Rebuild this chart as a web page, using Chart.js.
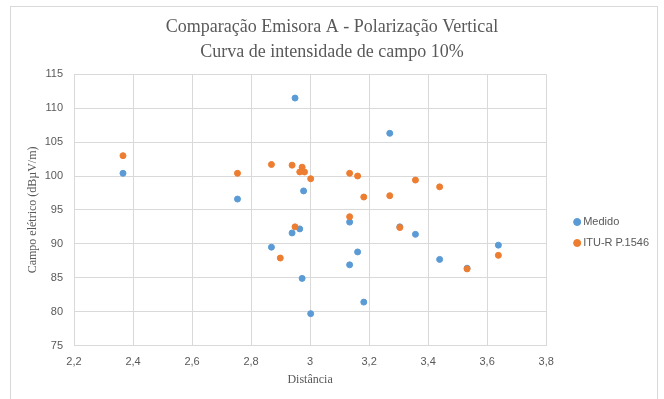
<!DOCTYPE html>
<html>
<head>
<meta charset="utf-8">
<script src="https://cdn.jsdelivr.net/npm/chart.js@4.4.1/dist/chart.umd.min.js"></script>
<style>
    html, body { margin: 0; padding: 0; background: #fff; }
    #wrap { position: relative; width: 664px; height: 399px; overflow: hidden; }
    #frame { position: absolute; left: 10px; top: 6px; width: 646px; height: 420px; border: 1px solid #d9d9d9; }
    #chart { position: absolute; left: 0; top: 0; }
</style>
</head>
<body>
<div id="wrap">
    <div id="frame"></div>
    <canvas id="chart" width="664" height="399"></canvas>
</div>
<script>
// Measured field strength
const medidoX = [2.366, 2.754, 2.869, 2.939, 2.949, 2.965, 2.973, 2.978, 3.002, 3.134, 3.134, 3.161, 3.182, 3.270, 3.304, 3.357, 3.439, 3.532, 3.638];
const medidoY = [100.4, 96.6, 89.5, 91.6, 111.5, 92.2, 84.9, 97.8, 79.7, 93.2, 86.9, 88.8, 81.4, 106.3, 92.5, 91.4, 87.7, 86.4, 89.8];

// ITU-R P.1546 prediction
const ituX = [2.366, 2.754, 2.869, 2.899, 2.939, 2.949, 2.965, 2.973, 2.981, 3.002, 3.134, 3.134, 3.161, 3.182, 3.270, 3.304, 3.357, 3.439, 3.532, 3.638];
const ituY = [103.0, 100.4, 101.7, 87.9, 101.6, 92.5, 100.6, 101.3, 100.6, 99.6, 100.4, 94.0, 100.0, 96.9, 97.1, 92.4, 99.4, 98.4, 86.3, 88.3];

const xTickValues = [2.2, 2.4, 2.6, 2.8, 3, 3.2, 3.4, 3.6, 3.8];
const yTickValues = [75, 80, 85, 90, 95, 100, 105, 110, 115];

const seriesNames = ['Medido', 'ITU-R P.1546'];
const titleLines = ['Comparação Emisora A - Polarização Vertical', 'Curva de intensidade de campo 10%'];

const toPoints = (xs, ys) => xs.map((x, i) => ({ x: x, y: ys[i] }));
const decimalComma = v => String(v).replace('.', ',');

// moves the legend off the plot edge and lets the title span the whole canvas
const boxTweaks = {
    id: 'boxTweaks',
    afterLayout(chart, args, opts) {
        const lg = chart.legend;
        if (lg) {
            lg.left += opts.dx; lg.right += opts.dx;
            lg.top += opts.dy; lg.bottom += opts.dy;
        }
        const tb = chart.titleBlock;
        if (tb) {
            tb.left = 0;
            tb.right = chart.width;
            tb.width = chart.width;
        }
    }
};

const textGray = '#595959';
const gridGray = '#d9d9d9';

new Chart(document.getElementById('chart'), {
    type: 'scatter',
    data: {
        datasets: [{
            label: seriesNames[0],
            data: toPoints(medidoX, medidoY),
            backgroundColor: '#5b9bd5',
            borderColor: '#5b9bd5',
            pointRadius: 3,
            borderWidth: 1,
            order: 1
        }, {
            label: seriesNames[1],
            data: toPoints(ituX, ituY),
            backgroundColor: '#ed7d31',
            borderColor: '#ed7d31',
            pointRadius: 3,
            borderWidth: 1,
            order: 0
        }]
    },
    plugins: [boxTweaks],
    options: {
        responsive: false,
        animation: false,
        layout: { padding: { left: 0, right: 25.5, top: 0, bottom: 0 } },
        plugins: {
            boxTweaks: { dx: 20.5, dy: 33 },
            tooltip: { enabled: false },
            title: {
                display: true,
                text: titleLines,
                color: textGray,
                font: { family: 'Liberation Serif', size: 18, weight: 'normal', lineHeight: 1.37 },
                padding: { top: 15, bottom: 10 }
            },
            legend: {
                position: 'right',
                labels: {
                    usePointStyle: true,
                    pointStyle: 'circle',
                    boxWidth: 1,
                    boxHeight: 5,
                    padding: 10,
                    color: textGray,
                    font: { family: 'Liberation Sans', size: 11 },
                    sort: (a, b) => a.datasetIndex - b.datasetIndex
                }
            }
        },
        scales: {
            x: {
                type: 'linear',
                min: 2.2,
                max: 3.8,
                afterBuildTicks: s => { s.ticks = xTickValues.map(v => ({ value: v })); },
                afterFit: s => { s.height = 53.5; },
                grid: { color: gridGray, drawTicks: false },
                border: { color: gridGray },
                ticks: {
                    padding: 10,
                    color: textGray,
                    font: { family: 'Liberation Sans', size: 11 },
                    callback: v => decimalComma(v)
                },
                title: {
                    display: true,
                    text: 'Distância',
                    color: textGray,
                    font: { family: 'Liberation Serif', size: 12 },
                    padding: { top: 0, bottom: 12 }
                }
            },
            y: {
                type: 'linear',
                min: 75,
                max: 115,
                afterBuildTicks: s => { s.ticks = yTickValues.map(v => ({ value: v })); },
                afterFit: s => { s.width = 74; },
                grid: { color: gridGray, drawTicks: false },
                border: { color: gridGray },
                ticks: {
                    padding: 11,
                    color: textGray,
                    font: { family: 'Liberation Sans', size: 11 },
                    callback: v => decimalComma(v)
                },
                title: {
                    display: true,
                    text: 'Campo elétrico (dBµV/m)',
                    color: textGray,
                    font: { family: 'Liberation Serif', size: 12 },
                    padding: { top: 26, bottom: 0 }
                }
            }
        }
    }
});
</script>
</body>
</html>
